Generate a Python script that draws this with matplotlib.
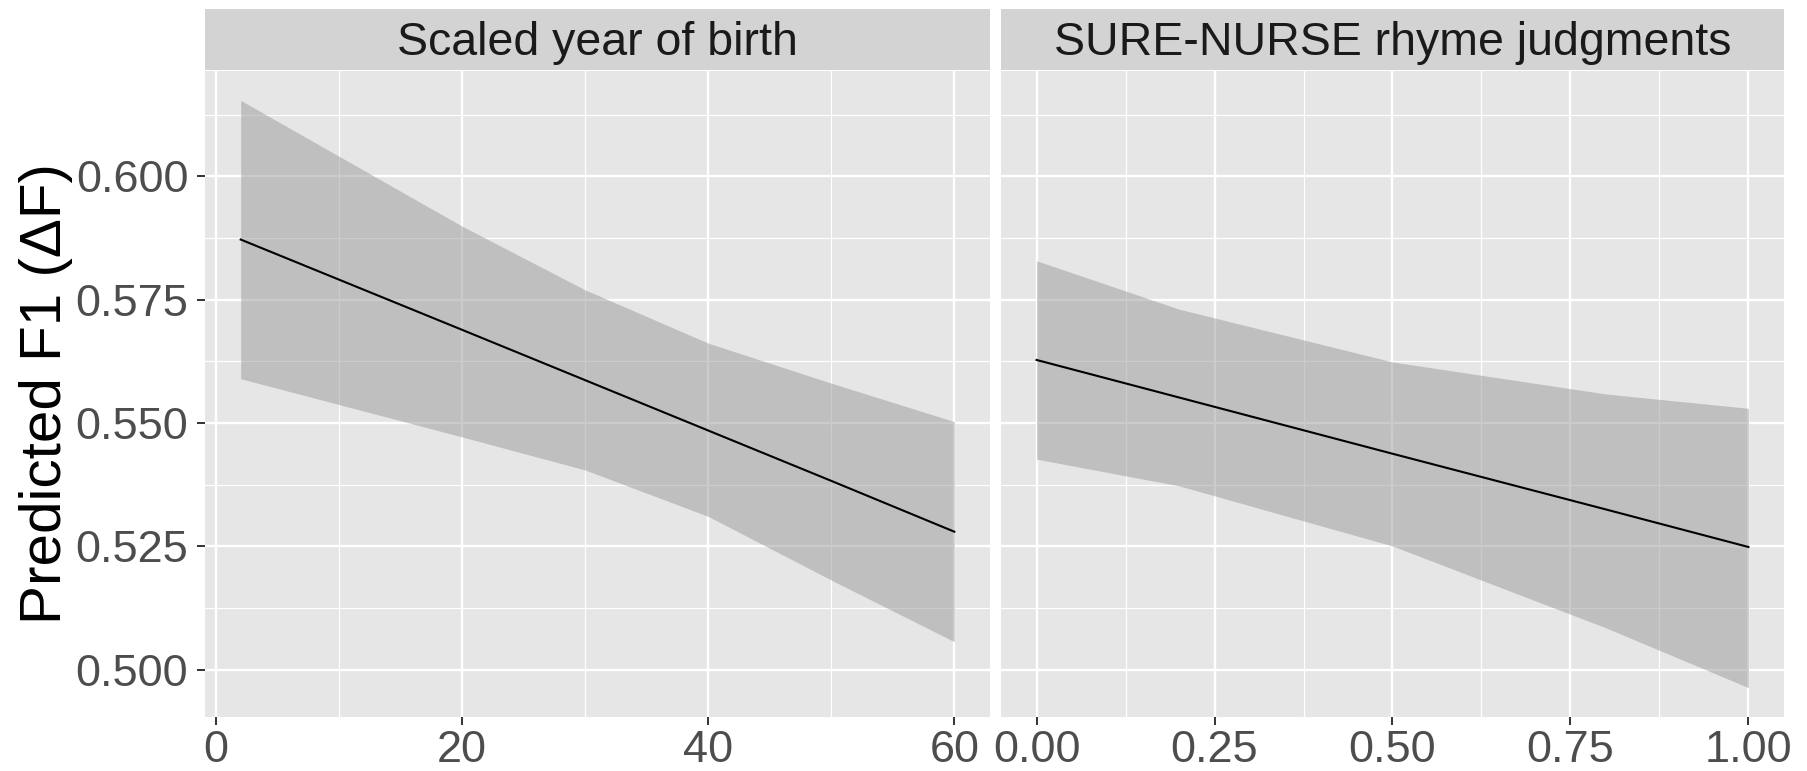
import numpy as np
import matplotlib.pyplot as plt
from matplotlib.ticker import FixedLocator

plt.rcParams['font.family'] = ['Liberation Sans', 'DejaVu Sans']

# predicted values with confidence band, year of birth panel
yob_x = [2, 20, 30, 40, 50, 60]
yob_fit = [0.5872, 0.5689, 0.5587, 0.5485, 0.5383, 0.5280]
yob_lo = [0.5590, 0.5472, 0.5405, 0.5311, 0.5182, 0.5057]
yob_hi = [0.6154, 0.5899, 0.5770, 0.5662, 0.5581, 0.5503]

# rhyme judgment panel
rhy_x = [0.0, 0.2, 0.5, 0.8, 1.0]
rhy_fit = [0.5628, 0.5552, 0.5438, 0.5325, 0.5249]
rhy_lo = [0.5427, 0.5373, 0.5251, 0.5085, 0.4964]
rhy_hi = [0.5829, 0.5731, 0.5624, 0.5559, 0.5530]

titles = ['Scaled year of birth', 'SURE-NURSE rhyme judgments']
yob_ticks = [0, 20, 40, 60]
yob_minor = [10, 30, 50]
rhy_ticks = [0.0, 0.25, 0.5, 0.75, 1.0]
rhy_minor = [0.125, 0.375, 0.625, 0.875]
y_ticks = [0.500, 0.525, 0.550, 0.575, 0.600]
y_minor = [0.5125, 0.5375, 0.5625, 0.5875, 0.6125]


def expand(lo, hi, frac=0.05):
    d = (hi - lo) * frac
    return lo - d, hi + d


fig = plt.figure(figsize=(18.08, 7.71), dpi=100)
W, H = 1808, 771
panels = [(205, 990), (1001, 1784)]
top, bottom = 71, 717
strip_top = 9

ylim = expand(min(min(yob_lo), min(rhy_lo)), max(max(yob_hi), max(rhy_hi)))

data = [
    (yob_x, yob_fit, yob_lo, yob_hi, yob_ticks, yob_minor, ['0', '20', '40', '60']),
    (rhy_x, rhy_fit, rhy_lo, rhy_hi, rhy_ticks, rhy_minor, ['0.00', '0.25', '0.50', '0.75', '1.00']),
]

for i, ((x0, x1), (x, fit, lo, hi, xt, xm, xl)) in enumerate(zip(panels, data)):
    ax = fig.add_axes([x0 / W, (H - bottom) / H, (x1 - x0) / W, (bottom - top) / H])
    ax.set_facecolor('#E6E6E6')
    for s in ax.spines.values():
        s.set_visible(False)
    ax.set_xlim(*expand(min(x), max(x)))
    ax.set_ylim(*ylim)

    ax.xaxis.set_major_locator(FixedLocator(xt))
    ax.xaxis.set_minor_locator(FixedLocator(xm))
    ax.yaxis.set_major_locator(FixedLocator(y_ticks))
    ax.yaxis.set_minor_locator(FixedLocator(y_minor))
    ax.set_xticklabels(xl)
    ax.grid(which='major', color='white', linewidth=1.7)
    ax.grid(which='minor', color='white', linewidth=0.85)
    ax.set_axisbelow(True)

    ax.fill_between(x, lo, hi, color='#999999', alpha=0.5, linewidth=0)
    ax.plot(x, fit, color='black', linewidth=1.5)

    ax.tick_params(which='major', length=6, width=1.4, color='#333333',
                   labelsize=32.5, labelcolor='#4D4D4D', pad=3)
    ax.tick_params(which='minor', length=0)
    ax.tick_params(axis='y', pad=6)
    if i == 0:
        ax.set_yticklabels(['0.500', '0.525', '0.550', '0.575', '0.600'])
    else:
        ax.tick_params(axis='y', left=False, labelleft=False)

    # facet strip
    sax = fig.add_axes([x0 / W, (H - top + 1) / H, (x1 - x0) / W, (top - 1 - strip_top) / H])
    sax.set_facecolor('#D3D3D3')
    sax.set_xticks([])
    sax.set_yticks([])
    for s in sax.spines.values():
        s.set_visible(False)
    sax.text(0.5, 0.45, titles[i], ha='center', va='center', fontsize=33.5,
             color='#1A1A1A', transform=sax.transAxes)

fig.text(46 / W, 1 - 394 / H, 'Predicted F1 (ΔF)', rotation=90, ha='center',
         va='center', fontsize=42, color='black')

fig.savefig('out.png', dpi=100, facecolor='white')
